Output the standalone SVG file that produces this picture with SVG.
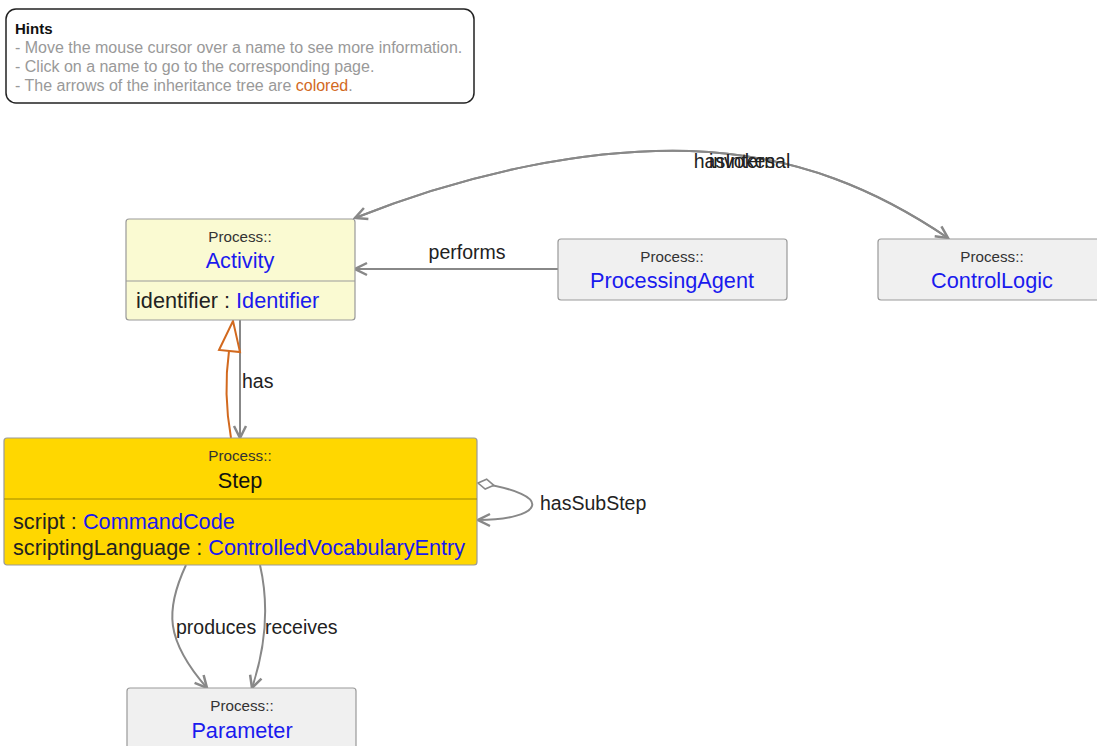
<svg xmlns="http://www.w3.org/2000/svg" width="1097" height="746" viewBox="0 0 1097 746">
<defs>
<style>
text{font-family:"Liberation Sans",Arial,sans-serif;}
.pk{font-size:15.2px;fill:#333;text-anchor:middle;}
.nm{font-size:21.7px;fill:#1a1aee;text-anchor:middle;}
.at{font-size:21.7px;fill:#222;}
.lk{fill:#1a1aee;}
.lbl{font-size:19.5px;fill:#222;}
.box{stroke:#999;stroke-width:1.2;}
.edge{fill:none;stroke:#888;stroke-width:2;}
.hint{font-size:16px;fill:#999;}
</style>
<marker id="arr" viewBox="0 0 16 16" refX="14" refY="8" markerWidth="16" markerHeight="16" markerUnits="userSpaceOnUse" orient="auto">
<path d="M2,2 L14,8 L2,14" fill="none" stroke="#888" stroke-width="2.5"/>
</marker>
<marker id="dia" viewBox="0 0 20 12" refX="1" refY="6" markerWidth="20" markerHeight="12" markerUnits="userSpaceOnUse" orient="auto">
<path d="M1,6 L9,1 L17,6 L9,11 Z" fill="#fff" stroke="#888" stroke-width="1.6"/>
</marker>
</defs>
<rect width="1097" height="746" fill="#fff"/>
<g id="hints">
<rect x="6" y="9" width="468" height="94" rx="10" fill="#fff" stroke="#222" stroke-width="1.5"/>
<text x="15" y="34" font-size="15" font-weight="bold" fill="#111">Hints</text>
<text x="15" y="53" class="hint">- Move the mouse cursor over a name to see more information.</text>
<text x="15" y="72" class="hint">- Click on a name to go to the corresponding page.</text>
<text x="15" y="91" class="hint">- The arrows of the inheritance tree are <tspan fill="#d2691e">colored</tspan>.</text>
</g>
<g id="connectors">
<path class="edge" d="M948,238 C880,192 800,155 690,151 C590,148 470,172 355,218" marker-end="url(#arr)"/>
<path class="edge" d="M355,218 C470,172 590,148 690,151 C800,155 880,192 948,238" marker-end="url(#arr)"/>
<text x="742" y="168" class="lbl" text-anchor="middle">hasInternal</text>
<text x="742" y="168" class="lbl" text-anchor="middle">invokes</text>
<path class="edge" d="M558,269 L355,269" marker-end="url(#arr)"/>
<text x="467" y="259" class="lbl" text-anchor="middle">performs</text>
<path class="edge" d="M240,320 L240,438" marker-end="url(#arr)"/>
<text x="242" y="388" class="lbl">has</text>
<path d="M231,438 C226,410 225,380 229,351" fill="none" stroke="#d2691e" stroke-width="2"/>
<path d="M219,350 L233,321 L240,352 Z" fill="#fff" stroke="#d2691e" stroke-width="2"/>
<path class="edge" d="M478,483 C560,495 540,520 478,520" marker-start="url(#dia)" marker-end="url(#arr)"/>
<text x="540" y="510" class="lbl">hasSubStep</text>
<path class="edge" d="M186,565 C165,610 165,640 207,688" marker-end="url(#arr)"/>
<text x="176" y="634" class="lbl">produces</text>
<path class="edge" d="M260,565 C268,600 268,640 252,688" marker-end="url(#arr)"/>
<text x="265" y="634" class="lbl">receives</text>
</g>
<g id="Activity">
<rect x="126" y="219" width="229" height="101" rx="3" fill="#fafad2" class="box"/>
<line x1="126" y1="281" x2="355" y2="281" stroke="#999" stroke-width="1.2"/>
<text x="240" y="242" class="pk">Process::</text>
<text x="240" y="268" class="nm">Activity</text>
<text x="136" y="308" class="at">identifier : <tspan class="lk">Identifier</tspan></text>
</g>
<g id="ProcessingAgent">
<rect x="558" y="239" width="229" height="61" rx="3" fill="#f0f0f0" class="box"/>
<text x="672" y="262" class="pk">Process::</text>
<text x="672" y="288" class="nm">ProcessingAgent</text>
</g>
<g id="ControlLogic">
<rect x="878" y="239" width="229" height="61" rx="3" fill="#f0f0f0" class="box"/>
<text x="992" y="262" class="pk">Process::</text>
<text x="992" y="288" class="nm">ControlLogic</text>
</g>
<g id="Step">
<rect x="4" y="438" width="473" height="127" rx="3" fill="#ffd700" class="box"/>
<line x1="4" y1="499" x2="477" y2="499" stroke="#a08a00" stroke-width="1.2"/>
<text x="240" y="461" class="pk">Process::</text>
<text x="240" y="488" class="nm" style="fill:#111">Step</text>
<text x="13" y="529" class="at">script : <tspan class="lk">CommandCode</tspan></text>
<text x="13" y="555" class="at">scriptingLanguage : <tspan class="lk">ControlledVocabularyEntry</tspan></text>
</g>
<g id="Parameter">
<rect x="127" y="688" width="229" height="70" rx="3" fill="#f0f0f0" class="box"/>
<text x="242" y="711" class="pk">Process::</text>
<text x="242" y="738" class="nm">Parameter</text>
</g>
</svg>
